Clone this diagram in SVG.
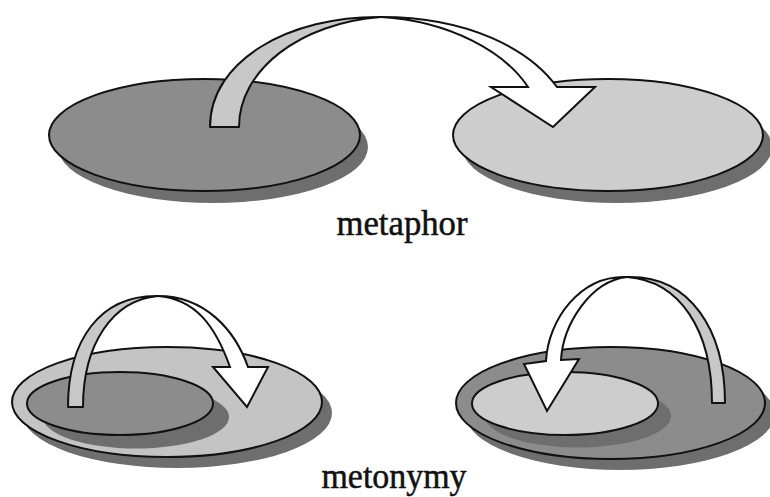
<svg xmlns="http://www.w3.org/2000/svg" width="770" height="497" viewBox="0 0 770 497">
<style>
.shadow{fill:#6e6e6e;stroke:none}
.dark{fill:#8c8c8c;stroke:#111;stroke-width:2}
.light{fill:#cdcdcd;stroke:#111;stroke-width:2}
.outerlight{fill:#c4c4c4;stroke:#111;stroke-width:2}
.ribbon-gray{fill:#c8c8c8;stroke:#111;stroke-width:2;stroke-linejoin:round}
.ribbon-white{fill:#ffffff;stroke:#111;stroke-width:2;stroke-linejoin:miter}
.label{font-family:"Liberation Serif","Times New Roman",serif;font-size:35px;fill:#111;stroke:#111;stroke-width:0.5;text-anchor:middle}
</style>
<rect width="770" height="497" fill="#ffffff"/>
<g id="source-domain">
<ellipse class="shadow" cx="213" cy="147" rx="155" ry="56"/>
<ellipse class="dark" cx="204.5" cy="135" rx="155.5" ry="56"/>
</g>
<g id="target-domain">
<ellipse class="shadow" cx="617" cy="147" rx="155" ry="56"/>
<ellipse class="light" cx="608" cy="135" rx="155" ry="56"/>
</g>
<g id="metonymy-left">
<ellipse class="shadow" cx="177" cy="413" rx="155" ry="55"/>
<ellipse class="outerlight" cx="167" cy="402" rx="155" ry="55"/>
<ellipse class="shadow" cx="136" cy="417" rx="93" ry="31.5"/>
<ellipse class="dark" cx="120" cy="403.5" rx="93" ry="31.5"/>
</g>
<g id="metonymy-right">
<ellipse class="shadow" cx="620" cy="414" rx="154.5" ry="56"/>
<ellipse class="dark" cx="610.5" cy="403" rx="154.5" ry="56"/>
<ellipse class="shadow" cx="578" cy="416" rx="93" ry="31.5"/>
<ellipse class="light" cx="565" cy="403.5" rx="93" ry="31.5"/>
</g>
<g id="connectors">
<path class="ribbon-gray" d="M210,127 C210,60 290,16 381,17 C300,23 239,70 239,127 Z"/>
<path class="ribbon-white" d="M381,17 C470,17 530,50 557,87 L595,87 L553,127 L491,87 L528,87 C505,52 450,21 381,17 Z"/>
<path class="ribbon-gray" d="M68,407 C68,340 100,295 158,296 C112,300 83,345 83,407 Z"/>
<path class="ribbon-white" d="M158,296 C205,296 235,330 248,367 L268,367 L247,407 L213,367 L230,367 C215,325 195,299 158,296 Z"/>
<path class="ribbon-gray" d="M725,403 C725,330 690,275 627,277 C680,281 712,330 712,403 Z"/>
<path class="ribbon-white" d="M627,277 C580,275 548,320 546,361 L524,364 L547,411 L579,359 L561,360 C563,325 590,281 627,277 Z"/>
</g>
<g id="labels">
<text class="label" x="402" y="235" textLength="131" lengthAdjust="spacingAndGlyphs">metaphor</text>
<text class="label" x="394" y="488" textLength="145" lengthAdjust="spacingAndGlyphs">metonymy</text>
</g>
</svg>
